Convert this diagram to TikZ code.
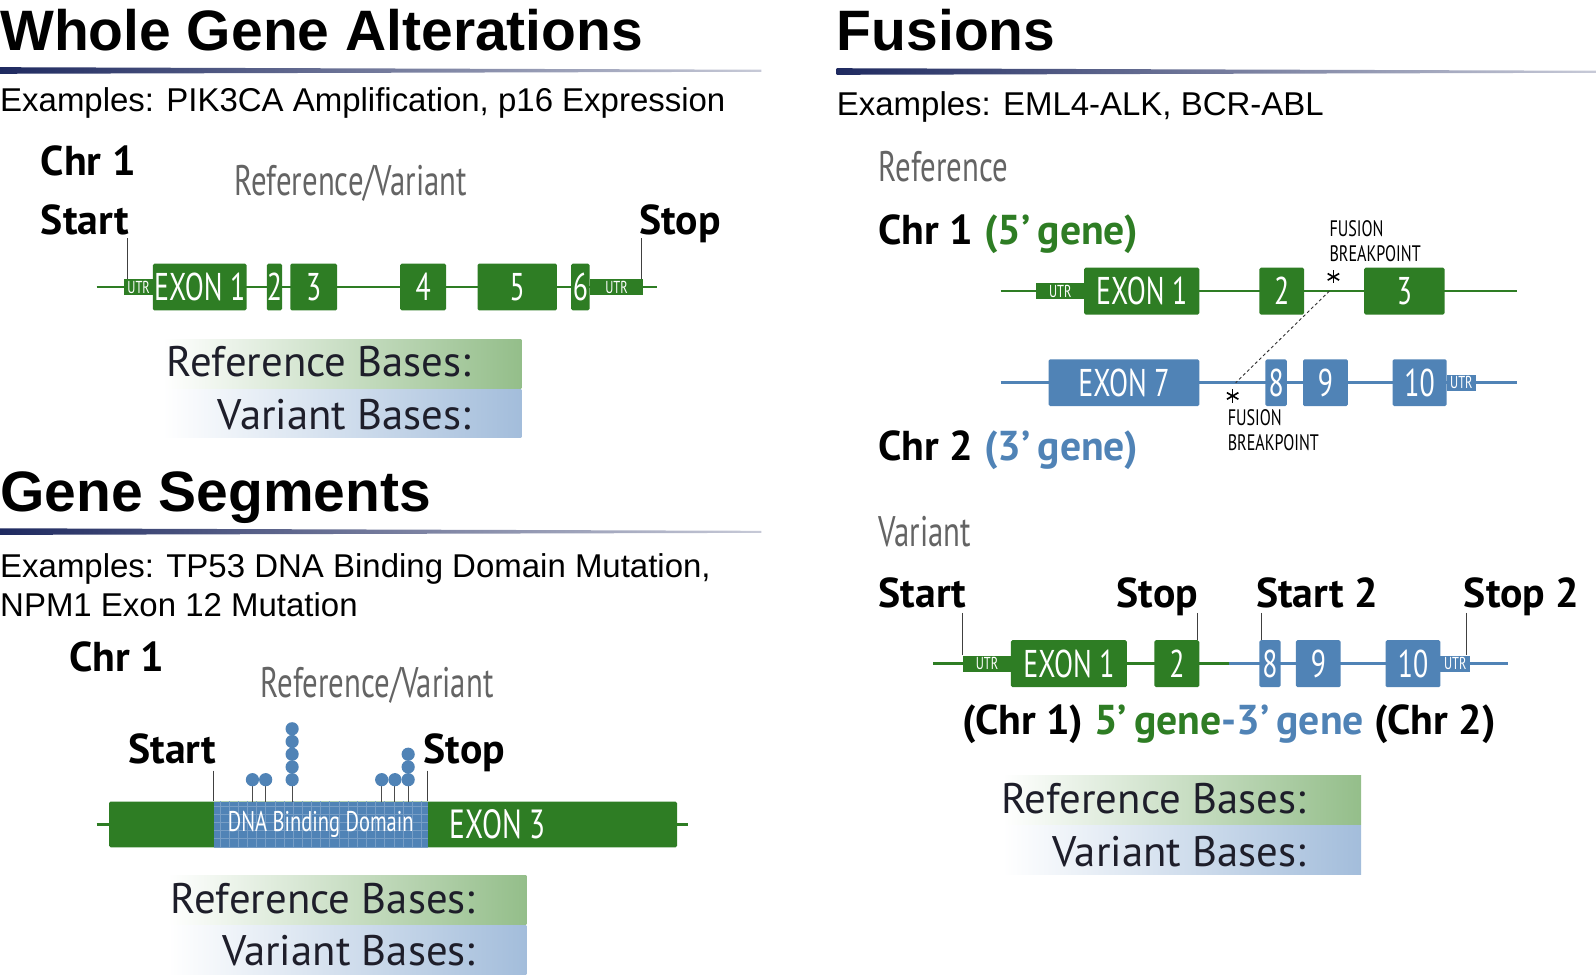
\documentclass[tikz,border=0pt]{standalone}
\usepackage{fontspec}
\setmainfont{Liberation Sans}
\newfontfamily\myriad{PT Sans}
\newfontfamily\myriadcn[FakeStretch=0.72]{PT Sans}
\usepackage{tikz}
\usetikzlibrary{positioning}
\definecolor{genegreen}{RGB}{46,125,36}
\definecolor{geneblue}{RGB}{80,131,182}
\definecolor{rulenavy}{RGB}{31,42,96}
\definecolor{labelgray}{RGB}{100,100,100}
\definecolor{refgreen}{RGB}{148,190,138}
\definecolor{varblue}{RGB}{163,189,219}
\definecolor{basesink}{RGB}{30,30,42}
\newcommand\fsz[1]{\fontsize{#1}{#1}\selectfont}
\tikzset{
  heading/.style={anchor=base west, inner sep=0, font=\bfseries\fsz{56}},
  example/.style={anchor=base west, inner sep=0, font=\fsz{32.4}},
  boldlbl/.style={anchor=base west, inner sep=0, font=\myriad\bfseries\fsz{41}},
  graylbl/.style={anchor=base west, inner sep=0, text=labelgray, font=\myriadcn\fsz{42}},
  exon/.style={fill=genegreen, rounded corners=1.5pt, text=white, inner sep=0,
    minimum width=#1, minimum height=46pt, anchor=west, font=\myriadcn\fsz{38}},
  exonb/.style={exon=#1, fill=geneblue},
  utr/.style={exon=#1, minimum height=16pt, rounded corners=0pt, font=\myriadcn\fsz{17}},
  utrb/.style={utr=#1, fill=geneblue},
  gline/.style={genegreen, line width=2.5pt},
  bline/.style={geneblue, line width=2.5pt},
  tickline/.style={black!75, line width=1pt},
  refbox/.style={left color=white, right color=refgreen, minimum width=352pt, minimum height=48pt, anchor=north west, inner sep=0},
  varbox/.style={refbox, right color=varblue},
  baseslbl/.style={anchor=base east, inner sep=0, text=basesink, font=\myriad\fsz{42}},
  bplbl/.style={anchor=north west, inner sep=0, align=left, font=\myriadcn\fontsize{22}{25}\selectfont},
  pin/.style={fill=geneblue, draw=none},
  hrule/.style={left color=rulenavy, right color=rulenavy!25}
}
\newcommand\bpstar[1]{%
  \foreach \a in {90,30,150}
    \draw[black, line width=1.6pt] ($(#1)+(\a:6.5pt)$) -- ($(#1)+(\a+180:6.5pt)$);}
\usetikzlibrary{calc}
\begin{document}
\begin{tikzpicture}[x=1pt, y=-1pt]
\useasboundingbox (0,0) rectangle (1568,961);

% headings and rules
\node[heading] (wga) at (0,50) {Whole Gene Alterations};
\shade[hrule] (0,66) -- (748,68.5) -- (748,70.5) -- (0,72.5) -- cycle;
\node[example] (wgaex) at (0,110) {Examples: PIK3CA Amplification, p16 Expression};

\node[heading] (fus) at (822,50) {Fusions};
\shade[hrule] (822,67) -- (1568,69.5) -- (1568,71.5) -- (822,73.5) -- cycle;
\node[example] (fusex) at (822,113) {Examples: EML4-ALK, BCR-ABL};

\node[heading] (gs) at (0,503) {Gene Segments};
\shade[hrule] (0,519) -- (748,521.5) -- (748,523.5) -- (0,525.5) -- cycle;
\node[example] (gsex1) at (0,567) {Examples: TP53 DNA Binding Domain Mutation,};
\node[example] (gsex2) at (0,606) {NPM1 Exon 12 Mutation};

% whole gene
\node[boldlbl] (chrA) at (40,172) {Chr 1};
\node[graylbl] (rvA) at (230,192) {Reference/Variant};
\node[boldlbl] (startA) at (40,230) {Start};
\node[boldlbl] (stopA) at (628,230) {Stop};
\coordinate (la0) at (95,282);
\coordinate (la1) at (645,282);
\draw[gline] (la0) -- (la1);
\node[utr=28pt] (utrA1) at (122,282) {UTR};
\node[exon=92pt] (exA1) at (150,282) {EXON 1};
\node[exon=13pt] (exA2) at (262,282) {2};
\node[exon=46pt] (exA3) at (285,282) {3};
\node[exon=45pt] (exA4) at (393,282) {4};
\node[exon=78pt] (exA5) at (469,282) {5};
\node[exon=18pt] (exA6) at (561,282) {6};
\node[utr=53pt] (utrA2) at (579,282) {UTR};
\coordinate (tkA1) at (125,234);
\coordinate (tkA2) at (630,234);
\draw[tickline] (tkA1) -- (tkA1 |- utrA1.north);
\draw[tickline] (tkA2) -- (tkA2 |- utrA2.north);
\node[refbox] (rbA) at (160,333) {};
\node[varbox] (vbA) at (160,382) {};
\node[baseslbl] (rlA) at (463,370) {Reference Bases:};
\node[baseslbl] (vlA) at (463,422) {Variant Bases:};

% gene segments
\node[boldlbl] (chrB) at (68,660) {Chr 1};
\node[graylbl] (rvB) at (256,685) {Reference/Variant};
\node[boldlbl] (startB) at (126,750) {Start};
\node[boldlbl] (stopB) at (416,750) {Stop};
\coordinate (lb0) at (95,810);
\coordinate (lb1) at (676,810);
\draw[gline] (lb0) -- (lb1);
\node[exon=558pt, minimum height=45pt] (barB) at (107,810) {};
\node[exonb=210pt, minimum height=45pt, rounded corners=0pt] (dbd) at (210,810) {};
\begin{scope}
  \clip (dbd.south west) rectangle (dbd.north east);
  \draw[geneblue!78!white, line width=0.6pt, xstep=9pt, ystep=8pt] (dbd.south west) grid (dbd.north east);
\end{scope}
\node[text=white, font=\myriadcn\fsz{28}] (dbdlbl) at (dbd.center) {DNA Binding Domain};
\node[text=white, font=\myriadcn\fsz{40}] (exB3) at (489,810) {EXON 3};
\coordinate (tkB1) at (210,757);
\coordinate (tkB2) at (420,757);
\draw[tickline] (tkB1) -- (tkB1 |- barB.north);
\draw[tickline] (tkB2) -- (tkB2 |- barB.north);
\foreach \x/\n in {248/1, 261/1, 287/5, 375/1, 388/1, 401/3} {
  \draw[black!70, line width=0.9pt] (\x,788) -- (\x,766);
  \foreach \k in {1,...,\n}
    \fill[pin] (\x,{766-12.5*(\k-1)}) circle (6.5pt);
}
\node[refbox] (rbB) at (165,860) {};
\node[varbox] (vbB) at (165,909) {};
\node[baseslbl] (rlB) at (467,897) {Reference Bases:};
\node[baseslbl] (vlB) at (467,949) {Variant Bases:};

% fusions, reference
\node[graylbl] (refC) at (863,178) {Reference};
\node[boldlbl] (chrC1) at (863,240) {Chr 1 \textcolor{genegreen}{(5’\,gene)}};
\coordinate (lc0) at (983,286);
\coordinate (lc1) at (1490,286);
\draw[gline] (lc0) -- (lc1);
\node[utr=47pt] (utrC1) at (1018,286) {UTR};
\node[exon=113pt] (exC1) at (1065,286) {EXON 1};
\node[exon=44pt] (exC2) at (1237,286) {2};
\node[exon=79pt] (exC3) at (1340,286) {3};
\node[bplbl] (bpl1) at (1306,216) {FUSION\\BREAKPOINT};
\coordinate (st1) at (1310,272);
\bpstar{st1}

\coordinate (ld0) at (983,376);
\coordinate (ld1) at (1490,376);
\draw[bline] (ld0) -- (ld1);
\node[exonb=148pt] (exD7) at (1030,376) {EXON 7};
\node[exonb=21pt] (exD8) at (1243,376) {8};
\node[exonb=44pt] (exD9) at (1280,376) {9};
\node[exonb=53pt] (exD10) at (1368,376) {10};
\node[utrb=29pt] (utrD) at (1421,376) {UTR};
\coordinate (st2) at (1211,389);
\bpstar{st2}
\node[bplbl] (bpl2) at (1206,402) {FUSION\\BREAKPOINT};
\coordinate (bp1) at (1306,286);
\coordinate (bp2) at (1214,376);
\draw[black!80, line width=0.9pt, dash pattern=on 3pt off 2.5pt] (bp1) -- (bp2);
\node[boldlbl] (chrC2) at (863,452) {Chr 2 \textcolor{geneblue}{(3’\,gene)}};

% fusions, variant
\node[graylbl] (varE) at (863,537) {Variant};
\node[boldlbl] (startE) at (863,597) {Start};
\node[boldlbl] (stopE) at (1097,597) {Stop};
\node[boldlbl] (start2E) at (1234,597) {Start 2};
\node[boldlbl] (stop2E) at (1438,597) {Stop 2};
\coordinate (le0) at (917,652);
\coordinate (lej) at (1207,652);
\coordinate (le1) at (1482,652);
\draw[gline] (le0) -- (lej);
\draw[bline] (lej) -- (le1);
\node[utr=47pt] (utrE1) at (946,652) {UTR};
\node[exon=114pt] (exE1) at (993,652) {EXON 1};
\node[exon=44pt] (exE2) at (1134,652) {2};
\node[exonb=21pt] (exE8) at (1237,652) {8};
\node[exonb=44pt] (exE9) at (1273,652) {9};
\node[exonb=54pt] (exE10) at (1361,652) {10};
\node[utrb=29pt] (utrE2) at (1415,652) {UTR};
\coordinate (tkE1) at (946,602);
\coordinate (tkE2) at (1176,602);
\coordinate (tkE3) at (1239,602);
\coordinate (tkE4) at (1441,602);
\draw[tickline] (tkE1) -- (tkE1 |- utrE1.north);
\draw[tickline] (tkE2) -- (tkE2 |- exE2.north);
\draw[tickline] (tkE3) -- (tkE3 |- exE8.north);
\draw[tickline] (tkE4) -- (tkE4 |- utrE2.north);
\node[boldlbl] (fuslbl) at (945,722) {(Chr 1) \textcolor{genegreen}{5’\,gene}\textcolor{geneblue}{-3’\,gene} (Chr 2)};
\node[refbox] (rbE) at (985,762) {};
\node[varbox] (vbE) at (985,811) {};
\node[baseslbl] (rlE) at (1283,799) {Reference Bases:};
\node[baseslbl] (vlE) at (1283,851) {Variant Bases:};
\end{tikzpicture}
\end{document}
